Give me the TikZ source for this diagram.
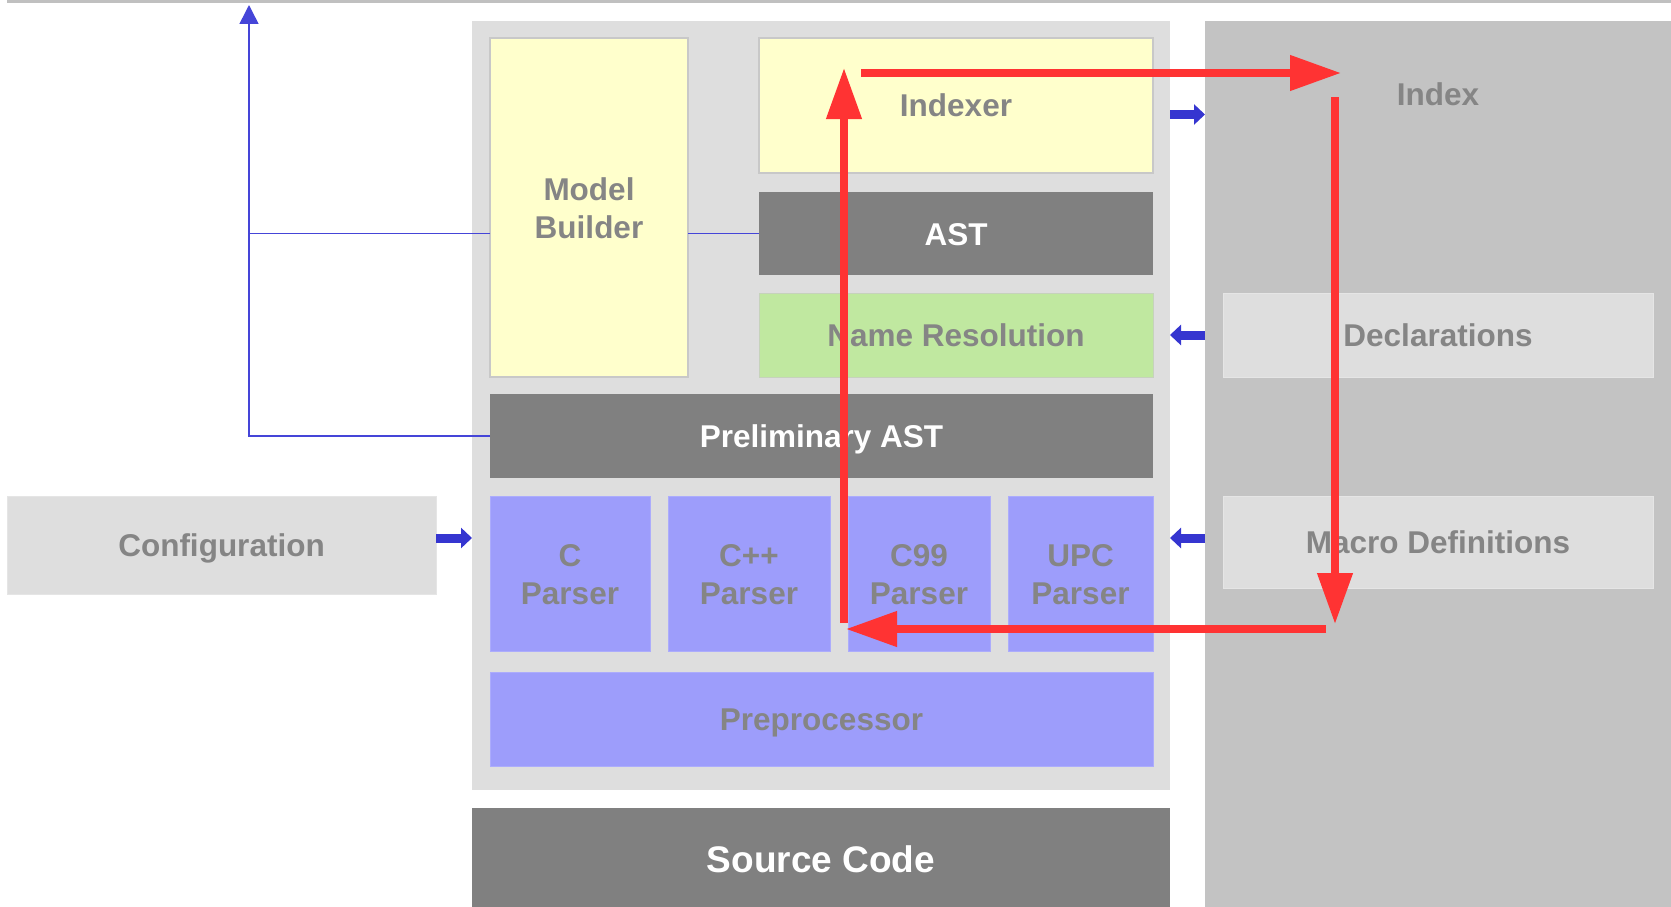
\documentclass[tikz,border=0pt]{standalone}
\usepackage{fontspec}
\setmainfont{Liberation Sans}
\usetikzlibrary{arrows.meta}
\definecolor{frameg}{HTML}{DEDEDE}
\definecolor{rightg}{HTML}{C3C3C3}
\definecolor{yel}{HTML}{FFFFCC}
\definecolor{darkg}{HTML}{808080}
\definecolor{grn}{HTML}{C0E8A0}
\definecolor{prs}{HTML}{9D9DFB}
\definecolor{blu}{HTML}{3535D0}
\definecolor{thinb}{HTML}{4545D8}
\definecolor{rd}{HTML}{FF3333}
\definecolor{txtg}{HTML}{858585}
\definecolor{edgeg}{HTML}{C8C8C8}
\definecolor{topl}{HTML}{C0C0C0}
\tikzset{
  box/.style={anchor=north west, inner sep=0pt, outer sep=0pt, align=center,
    font=\fontsize{31.5}{38}\selectfont\bfseries, text=txtg},
  oneline/.style={text height=23pt, text depth=-9pt},
  twoline/.style={text height=61pt, text depth=-3pt},
  yelbox/.style={box, fill=yel, draw=edgeg, line width=1.2pt},
  darkbox/.style={box, fill=darkg, text=white},
  grnbox/.style={box, fill=grn, draw=edgeg!70!grn, line width=1pt},
  prsbox/.style={box, fill=prs, draw=prs!85!white, line width=0.8pt},
  lgbox/.style={box, fill=frameg, draw=frameg!80!white, line width=0.8pt},
  thickblue/.style={draw=blu, line width=9pt, -{Triangle[length=11pt,width=20pt]}},
  thinblue/.style={draw=thinb, line width=1.5pt},
  redarrow/.style={draw=rd, line width=7.5pt, -{Triangle[length=51pt,width=34pt]}},
}
\begin{document}
\begin{tikzpicture}[x=1pt,y=-1pt]
\useasboundingbox (0,0) rectangle (1671,907);
% top line
\draw[topl, line width=3pt] (7,1.5) -- (1671,1.5);
% containers
\node[box, fill=frameg, minimum width=698pt, minimum height=769pt] (frame) at (472,21) {};
\node[box, fill=rightg, minimum width=466pt, minimum height=886pt] (rbox) at (1205,21) {};
% left-hand nodes
\node[yelbox, twoline, minimum width=198pt, minimum height=339pt] (mb) at (490,38) {Model\\Builder};
\node[yelbox, oneline, text depth=-12pt, minimum width=394pt, minimum height=135pt] (idx) at (759,38) {Indexer};
\node[darkbox, oneline, minimum width=394pt, minimum height=83pt] (ast) at (759,192) {AST};
\node[grnbox, oneline, minimum width=394pt, minimum height=84pt] (nr) at (759,293) {Name Resolution};
\node[darkbox, oneline, minimum width=663pt, minimum height=84pt] (pa) at (490,394) {Preliminary AST};
\node[prsbox, twoline, minimum width=160pt, minimum height=155pt] (cp) at (490,496) {C\\Parser};
\node[prsbox, twoline, minimum width=162pt, minimum height=155pt] (cpp) at (668,496) {C++\\Parser};
\node[prsbox, twoline, minimum width=142pt, minimum height=155pt] (c99) at (848,496) {C99\\Parser};
\node[prsbox, twoline, minimum width=145pt, minimum height=155pt] (upc) at (1008,496) {UPC\\Parser};
\node[prsbox, oneline, minimum width=663pt, minimum height=94pt] (pp) at (490,672) {Preprocessor};
\node[darkbox, text height=26.5pt, text depth=-4pt, minimum width=698pt, minimum height=102pt, font=\fontsize{37}{44}\selectfont\bfseries] (sc) at (472,808) {Source Code};
% right-hand nodes
\node[box, oneline, anchor=center] (index) at (1438,94) {Index};
\node[lgbox, oneline, minimum width=430pt, minimum height=84pt] (decl) at (1223,293) {Declarations};
\node[lgbox, oneline, minimum width=430pt, minimum height=92pt] (macro) at (1223,496) {Macro Definitions};
% left configuration
\node[lgbox, oneline, minimum width=429pt, minimum height=98pt] (cfg) at (7,496) {Configuration};
% thin blue connectors
\coordinate (up) at (249,5);
\coordinate (mbl) at (249,233.5);
\draw[thinblue] (ast.west) -- (mb.east |- ast.west);
\draw[thinblue] (mb.west |- ast.west) -- (mbl);
\draw[thinblue, -{Triangle[length=19pt,width=19pt]}] (pa.west) -| (up);
% thick blue arrows
\draw[thickblue] ([yshift=7pt]cfg.east) -- ([yshift=7pt]cfg.east -| frame.west);
\draw[thickblue] ([yshift=-9pt]idx.east -| frame.east) -- ([yshift=-9pt]idx.east -| rbox.west);
\draw[thickblue] (decl.west -| rbox.west) -- (decl.west -| frame.east);
\draw[thickblue] ([yshift=4pt]macro.west -| rbox.west) -- ([yshift=4pt]macro.west -| frame.east);
% red cycle
\coordinate (r1) at (861,73);
\coordinate (r2) at (1341,73);
\coordinate (r3) at (1335,97);
\coordinate (r4) at (1335,624);
\coordinate (r5) at (1326,629);
\coordinate (r6) at (846,629);
\coordinate (r7) at (844,623);
\coordinate (r8) at (844,68);
\draw[redarrow] (r1) -- (r2);
\draw[redarrow] (r3) -- (r4);
\draw[redarrow] (r5) -- (r6);
\draw[redarrow] (r7) -- (r8);
\end{tikzpicture}
\end{document}
